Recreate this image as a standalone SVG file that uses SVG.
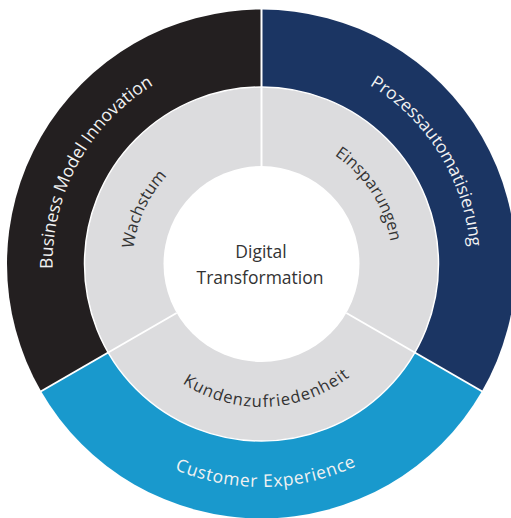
<svg xmlns="http://www.w3.org/2000/svg" xmlns:xlink="http://www.w3.org/1999/xlink" width="511" height="518" viewBox="0 0 511 518">
  <style>
    .t { font-family: "Open Sans", "Noto Sans", "Liberation Sans", sans-serif; font-size: 17.5px; }
    .light { fill: #f2f2f2; }
    .dark { fill: #333333; font-size: 16.5px; }
    .div { stroke: #ffffff; stroke-width: 2; fill: none; }
  </style>
  <defs>
    <path id="arcBMI" d="M 80.5,368.5 A 209 209 0 0 1 261.5,55"/>
    <path id="arcPA" d="M 261.5,55 A 209 209 0 0 1 442.5,368.5"/>
    <path id="arcCX" d="M 68.38,375.5 A 223 223 0 0 0 454.62,375.5"/>
    <path id="arcW" d="M 149.78,328.5 A 129 129 0 0 1 261.5,135"/>
    <path id="arcE" d="M 261.5,133 A 131 131 0 0 1 374.95,329.5"/>
    <path id="arcK" d="M 137.66,335.5 A 143 143 0 0 0 385.34,335.5"/>
  </defs>
  <rect width="511" height="518" fill="#ffffff"/>

  <g id="business-model-innovation">
    <path d="M 261.5,264 L 41.10,391.25 A 254.5 254.5 0 0 1 261.5,9.5 Z" fill="#231f20"/>
    <text class="t light"><textPath xlink:href="#arcBMI" href="#arcBMI" startOffset="49%" text-anchor="middle">Business Model Innovation</textPath></text>
  </g>
  <g id="prozessautomatisierung">
    <path d="M 261.5,264 L 261.5,9.5 A 254.5 254.5 0 0 1 481.90,391.25 Z" fill="#1b3563"/>
    <text class="t light"><textPath xlink:href="#arcPA" href="#arcPA" startOffset="48.5%" text-anchor="middle">Prozessautomatisierung</textPath></text>
  </g>
  <g id="customer-experience">
    <path d="M 261.5,264 L 481.90,391.25 A 254.5 254.5 0 0 1 41.10,391.25 Z" fill="#1999cd"/>
    <text class="t light" letter-spacing="0.7"><textPath xlink:href="#arcCX" href="#arcCX" startOffset="51%" text-anchor="middle">Customer Experience</textPath></text>
  </g>

  <g id="inner-ring">
    <circle cx="261.5" cy="264" r="177" fill="#dcdcde" stroke="#ffffff" stroke-width="1.5"/>
  </g>
  <g id="wachstum">
    <text class="t dark"><textPath xlink:href="#arcW" href="#arcW" startOffset="45.8%" text-anchor="middle">Wachstum</textPath></text>
  </g>
  <g id="einsparungen">
    <text class="t dark"><textPath xlink:href="#arcE" href="#arcE" startOffset="47.5%" text-anchor="middle">Einsparungen</textPath></text>
  </g>
  <g id="kundenzufriedenheit">
    <text class="t dark" letter-spacing="0.9"><textPath xlink:href="#arcK" href="#arcK" startOffset="52%" text-anchor="middle">Kundenzufriedenheit</textPath></text>
  </g>

  <g id="connectors">
    <line class="div" x1="261.5" y1="166" x2="261.5" y2="4"/>
    <line class="div" x1="176.63" y1="313" x2="37.2" y2="393.5"/>
    <line class="div" x1="346.37" y1="313" x2="485.8" y2="393.5"/>
  </g>

  <g id="digital-transformation">
    <circle cx="261.5" cy="264" r="98" fill="#ffffff"/>
    <text class="t" fill="#333333" text-anchor="middle" x="261" y="257.5">Digital</text>
    <text class="t" fill="#333333" text-anchor="middle" x="260" y="284">Transformation</text>
  </g>
</svg>
